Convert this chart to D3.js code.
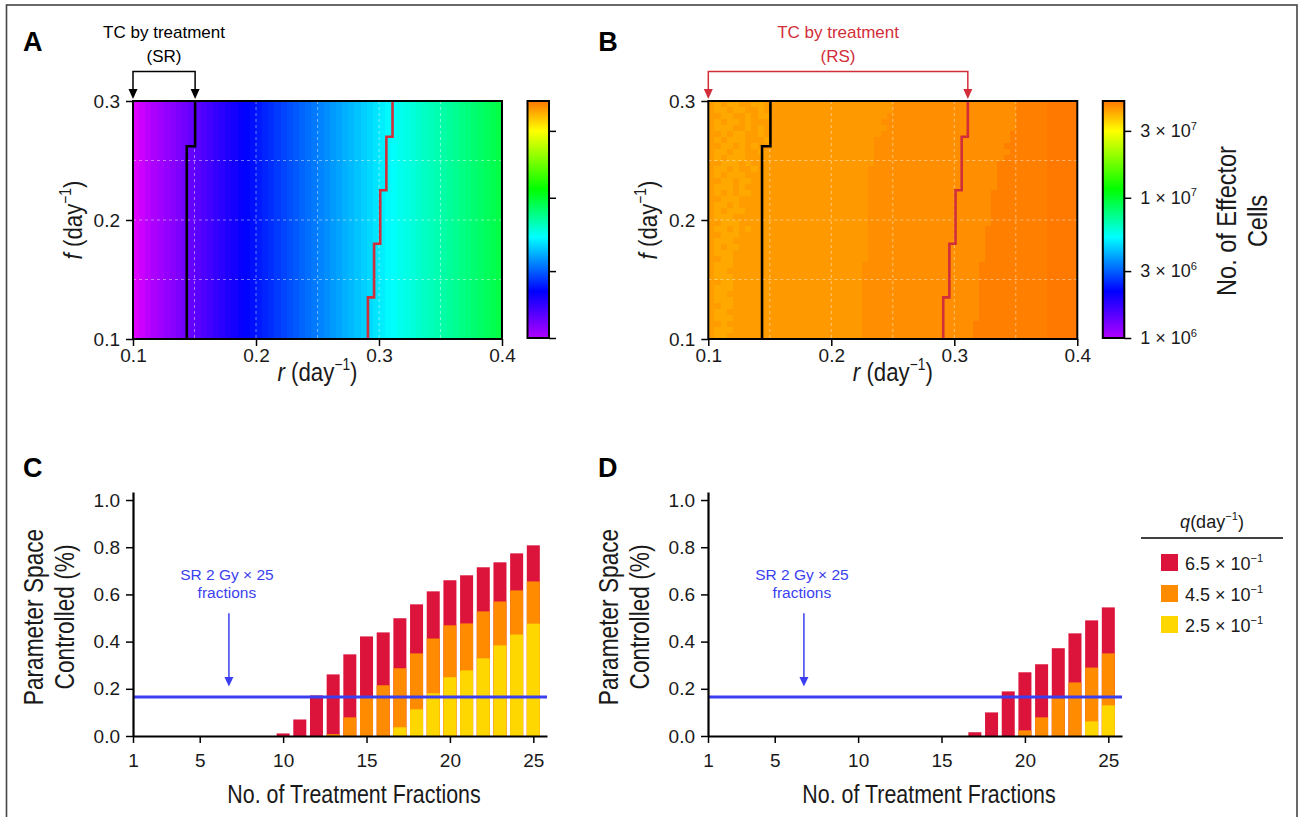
<!DOCTYPE html>
<html><head><meta charset="utf-8">
<script src="https://cdn.jsdelivr.net/npm/d3@7"></script>
<style>
body{margin:0;background:#fff;}
svg{display:block;font-family:"Liberation Sans",Arial,sans-serif;}
</style></head><body>
<svg id="c" width="1299" height="817"></svg>
<script>
// ---------------- DATA ----------------
// Panel A: log10(no. of effector cells) per r-column (r = 0.1 .. 0.4, step 0.005)
const logEffectorA = [5.941,5.963,5.986,6.008,6.030,6.052,6.074,6.097,6.119,6.141,6.163,6.185,6.208,6.230,6.252,6.274,6.296,6.319,6.338,6.354,6.371,6.387,6.403,6.419,6.436,6.452,6.468,6.484,6.501,6.517,6.533,6.549,6.566,6.582,6.598,6.614,6.631,6.647,6.663,6.679,6.696,6.712,6.727,6.741,6.755,6.770,6.784,6.798,6.812,6.826,6.840,6.854,6.869,6.883,6.897,6.911,6.925,6.939,6.954,6.968];
// Panel B: level codes per cell; first 10 r-columns (mottled zone), rows from f=0.3 down to 0.1
const mottleB = ["babaabbaab","baabaabbab","bbaabbabaa","babaababbb","baaabbabab","bbabaabbab","babaaabbba","bbaabababb","baabaabbab","babaaabbbb",
"bbaaababbb","baababbabb","babaaabbbb","bbaabaabbb","baaababbbb","bababaabbb","bbaaabbbbb","baababbbbb","babaaabbbb","baaabbbbbb",
"bbaaabbbbb","baabababbb","bbaaabbbbb","baaabbbbbb","babaabbbbb","baaabbbbbb","bbaabbbbbb","baaabbbbbb","baabbbbbbb","baaabbbbbb",
"bbaabbbbbb","baaabbbbbb","baabbbbbbb","baaabbbbbb","bbaabbbbbb","baabbbbbbb","baaabbbbbb","bbabbbbbbb","baaabbbbbb","baabbbbbbb"];
const edgeDB = [0.25,0.25,0.245,0.24,0.245,0.24,0.235,0.235,0.235,0.235,0.235,0.23,0.23,0.23,0.23,0.23,0.23,0.23,0.23,0.23,0.23,0.23,0.23,0.23,0.23,0.23,0.23,0.225,0.225,0.225,0.225,0.225,0.225,0.225,0.225,0.225,0.225,0.225,0.225,0.225];
const edgeEB = [0.35,0.35,0.35,0.35,0.35,0.345,0.345,0.34,0.345,0.34,0.335,0.335,0.335,0.335,0.335,0.33,0.33,0.33,0.33,0.33,0.33,0.325,0.325,0.325,0.325,0.325,0.325,0.32,0.32,0.32,0.32,0.32,0.32,0.32,0.32,0.32,0.32,0.315,0.315,0.315];
const edgeFB = 0.375;
const levelValuesB = {a:4.08e7, b:4.27e7, c:4.32e7, d:4.48e7, e:4.74e7, f:4.86e7};
// tumour-control contours (step lines): f break points and r value of each step
const blackContourF = [0.1, 0.262, 0.3];
const blackContourR = [0.1437, 0.1505];
const redContourF = [0.1, 0.135, 0.18, 0.225, 0.27, 0.3];
const redContourR = [0.291, 0.296, 0.301, 0.306, 0.311];
const rTicks = [0.1, 0.2, 0.3, 0.4];
const fTicks = [0.1, 0.2, 0.3];
const cbarTicks = [1e6, 3e6, 1e7, 3e7];
const cbarTickExp = ["6", "6", "7", "7"];
const cbarTickMant = ["1", "3", "1", "3"];

// Panels C / D
const fractions = [1,2,3,4,5,6,7,8,9,10,11,12,13,14,15,16,17,18,19,20,21,22,23,24,25];
const ctrlC_q65 = [0,0,0,0,0,0,0,0,0,0.011,0.070,0.172,0.261,0.346,0.422,0.439,0.499,0.558,0.613,0.660,0.681,0.715,0.736,0.774,0.808];
const ctrlC_q45 = [0,0,0,0,0,0,0,0,0,0,0,0,0.008,0.079,0.170,0.215,0.287,0.350,0.413,0.469,0.477,0.528,0.570,0.617,0.655];
const ctrlC_q25 = [0,0,0,0,0,0,0,0,0,0,0,0,0,0,0,0,0.037,0.113,0.181,0.249,0.278,0.329,0.384,0.430,0.476];
const ctrlD_q65 = [0,0,0,0,0,0,0,0,0,0,0,0,0,0,0,0,0.016,0.100,0.189,0.270,0.304,0.372,0.435,0.490,0.545];
const ctrlD_q45 = [0,0,0,0,0,0,0,0,0,0,0,0,0,0,0,0,0,0,0,0.024,0.079,0.160,0.227,0.290,0.350];
const ctrlD_q25 = [0,0,0,0,0,0,0,0,0,0,0,0,0,0,0,0,0,0,0,0,0,0,0,0.062,0.130];
const srReference = 0.165;
const fracTicks = [1,5,10,15,20,25];
const ctrlTicks = [0,0.2,0.4,0.6,0.8,1.0];
const qLabels = ["6.5", "4.5", "2.5"];

// ---------------- STYLE ----------------
const cmapDomain = [8.5e5, 1e6, 2.15e6, 5.25e6, 1.15e7, 3e7, 5e7];
const cmapColors = ["#e400ff", "#b000ff", "#0000ff", "#00ffff", "#00ff00", "#ffff00", "#ff7000"];
const color = d3.scaleLog().domain(cmapDomain).range(cmapColors).interpolate(d3.interpolateRgb).clamp(true);
const qColors = ["#dc143c", "#ff8c00", "#ffd700"];
const blue = "#3b3ff0", red = "#d22e3a", txt = "#1a1a1a";
const tickFont = 19, narrow = 0.84;

const svg = d3.select("#c");
svg.append("rect").attr("x",6.5).attr("y",5).attr("width",1290.5).attr("height",830)
  .attr("fill","none").attr("stroke","#444").attr("stroke-width",1.6);

function rich(t, parts, fs){
  let shift = 0;
  parts.forEach(p=>{
    const s = t.append("tspan").text(p.t);
    if(p.i) s.attr("font-style","italic");
    if(p.sup){ s.attr("font-size", fs*0.62).attr("dy", -fs*0.42); shift = fs*0.42; }
    else if(shift){ s.attr("dy", shift); shift = 0; }
  });
  return t;
}
// condensed label (horizontally squeezed Liberation Sans)
function label(parent, x, y, rot, fs, parts){
  const t = parent.append("g").attr("transform",`translate(${x},${y}) rotate(${rot}) scale(${narrow},1)`)
    .append("text").attr("text-anchor","middle").attr("font-size",fs).attr("fill",txt);
  return rich(t, parts, fs);
}

// ---------------- HEATMAPS ----------------
const heatW = 369, heatTop = 101, heatBot = 339;
const rStep = 0.005, nCols = 60, nRows = 40;

function heatPanel(left, valueAt, opts){
  const g = svg.append("g");
  const x = d3.scaleLinear().domain([0.1,0.4]).range([left, left+heatW]);
  const y = d3.scaleLinear().domain([0.1,0.3]).range([heatBot, heatTop]);
  const clipId = "clip"+opts.key;
  svg.append("clipPath").attr("id",clipId).append("rect")
    .attr("x",left).attr("y",heatTop).attr("width",heatW).attr("height",heatBot-heatTop);
  const cells = [];
  for(let i=0;i<nRows;i++) for(let j=0;j<nCols;j++){
    cells.push({i,j,v:valueAt(i,j)});
  }
  g.append("g").attr("clip-path","url(#"+clipId+")").selectAll("rect").data(cells).join("rect")
    .attr("x", d=>x(0.1+d.j*rStep))
    .attr("y", d=>y(0.3-d.i*rStep))
    .attr("width", d=>x(0.1+(d.j+1)*rStep)-x(0.1+d.j*rStep)+0.6)
    .attr("height", d=>y(0.3-(d.i+1)*rStep)-y(0.3-d.i*rStep)+0.6)
    .attr("fill", d=>color(d.v)).attr("shape-rendering","crispEdges");
  // dashed grid
  const gridG = g.append("g").attr("stroke","#fff").attr("stroke-opacity",0.45)
    .attr("stroke-dasharray","3,3").attr("stroke-width",1);
  [0.15,0.2,0.25,0.3,0.35].forEach(r=>gridG.append("line").attr("x1",x(r)).attr("x2",x(r)).attr("y1",heatTop).attr("y2",heatBot));
  [0.15,0.2,0.25].forEach(f=>gridG.append("line").attr("x1",left).attr("x2",left+heatW).attr("y1",y(f)).attr("y2",y(f)));
  // contours
  function stepPts(F,R){ const pts=[]; R.forEach((r,k)=>{ pts.push([r,F[k]]); pts.push([r,F[k+1]]); }); return pts; }
  const line = d3.line().x(d=>x(d[0])).y(d=>y(d[1]));
  g.append("path").attr("d",line(stepPts(blackContourF,blackContourR))).attr("fill","none").attr("stroke","#000").attr("stroke-width",2.6);
  g.append("path").attr("d",line(stepPts(redContourF,redContourR))).attr("fill","none").attr("stroke",red).attr("stroke-width",2.6);
  // border
  g.append("rect").attr("x",left).attr("y",heatTop).attr("width",heatW).attr("height",heatBot-heatTop)
    .attr("fill","none").attr("stroke","#000").attr("stroke-width",2);
  // axes
  const ax = g.append("g").attr("transform",`translate(0,${heatBot})`)
    .call(d3.axisBottom(x).tickValues(rTicks).tickFormat(d3.format(".1f")).tickSize(7).tickPadding(3));
  const ay = g.append("g").attr("transform",`translate(${left},0)`)
    .call(d3.axisLeft(y).tickValues(fTicks).tickFormat(d3.format(".1f")).tickSize(7).tickPadding(6));
  [ax,ay].forEach(a=>{ a.select(".domain").remove(); a.selectAll("line").attr("stroke","#000").attr("stroke-width",1.5);
    a.selectAll("text").attr("font-size",tickFont).attr("fill",txt).attr("font-family","Liberation Sans, Arial, sans-serif"); });
  // axis labels
  label(g, left+heatW/2, 381, 0, 26.5, [{t:"r",i:1},{t:" (day"},{t:"\u22121",sup:1},{t:")"}]);
  label(g, left-51, (heatTop+heatBot)/2, -90, 26.5, [{t:"f",i:1},{t:" (day"},{t:"\u22121",sup:1},{t:")"}]);
  // panel letter
  g.append("text").attr("x",left-110).attr("y",51).attr("font-size",27).attr("font-weight","bold").attr("fill","#000").text(opts.key);
  // annotation bracket
  const ac = opts.annColor, xa = x(0.1), xb = x(opts.bracketR), yb = heatTop-29.5;
  const ag = g.append("g");
  ag.append("path").attr("d",`M${xa},${heatTop-10} V${yb} H${xb} V${heatTop-10}`).attr("fill","none").attr("stroke",ac).attr("stroke-width",1.5);
  [xa,xb].forEach(xx=>ag.append("path").attr("d",`M${xx-4.5},${heatTop-12} L${xx+4.5},${heatTop-12} L${xx},${heatTop-2} Z`).attr("fill",ac));
  const tx = (xa+xb)/2;
  ag.append("text").attr("x",tx).attr("y",38).attr("text-anchor","middle").attr("font-size",17).attr("fill",ac).text("TC by treatment");
  ag.append("text").attr("x",tx).attr("y",62).attr("text-anchor","middle").attr("font-size",17).attr("fill",ac).text(opts.annLabel);
  // colorbar
  const cbL = left+394.5, cbW = 21.5;
  const cy = d3.scaleLog().domain([1e6,4.9e7]).range([338, heatTop]);
  const cb = g.append("g");
  const rows = d3.range(heatTop, 338, 1);
  cb.selectAll("rect").data(rows).join("rect").attr("x",cbL).attr("y",d=>d).attr("width",cbW).attr("height",1.2)
    .attr("fill",d=>color(cy.invert(d+0.5))).attr("shape-rendering","crispEdges");
  cb.append("rect").attr("x",cbL).attr("y",heatTop).attr("width",cbW).attr("height",338-heatTop)
    .attr("fill","none").attr("stroke","#000").attr("stroke-width",2);
  const cax = cb.append("g").attr("transform",`translate(${cbL+cbW},0)`)
    .call(d3.axisRight(cy).tickValues(cbarTicks).tickSize(7).tickPadding(9).tickFormat(""));
  cax.select(".domain").remove();
  cax.selectAll("line").attr("stroke","#000").attr("stroke-width",1.5);
  if(opts.cbarLabels){
    cax.selectAll(".tick text").each(function(d,k){
      const t = d3.select(this).attr("font-size",18).attr("fill",txt).attr("font-family","Liberation Sans, Arial, sans-serif").text(null);
      rich(t,[{t:cbarTickMant[k]+" \u00d7 10"},{t:cbarTickExp[k],sup:1}],18);
    });
    const lx = cbL + 133;
    label(g, lx, 221, -90, 28, [{t:"No. of Effector"}]);
    label(g, lx+31, 221, -90, 28, [{t:"Cells"}]);
  }
}

heatPanel(133, (i,j)=>Math.pow(10, logEffectorA[j]), {key:"A", annColor:"#000", annLabel:"(SR)", bracketR: blackContourR[blackContourR.length-1], cbarLabels:false});
heatPanel(708.3, (i,j)=>{
  const rc = 0.1 + j*rStep + rStep/2;
  let code;
  if(j < mottleB[i].length) code = mottleB[i][j];
  else if(rc < edgeDB[i]) code = "c";
  else if(rc < edgeEB[i]) code = "d";
  else if(rc < edgeFB) code = "e";
  else code = "f";
  return levelValuesB[code];
}, {key:"B", annColor:red, annLabel:"(RS)", bracketR: redContourR[redContourR.length-1], cbarLabels:true});

// ---------------- BAR PANELS ----------------
const barTop = 492, barBase = 736, barW = 414;
function barPanel(left, key, series){
  const g = svg.append("g");
  const x = d3.scaleLinear().domain([1,25.82]).range([left, left+barW]);
  const y = d3.scaleLinear().domain([0,1.034]).range([barBase, barTop]);
  const bw = (x(2)-x(1))*0.78;
  series.forEach((vals,k)=>{
    g.append("g").selectAll("rect").data(fractions.map((n,idx)=>({n,v:vals[idx]})).filter(d=>d.v>0)).join("rect")
      .attr("x",d=>x(d.n)-bw/2).attr("y",d=>y(d.v)).attr("width",bw).attr("height",d=>y(0)-y(d.v))
      .attr("fill",qColors[k]);
  });
  g.append("line").attr("x1",left).attr("x2",left+barW).attr("y1",y(srReference)).attr("y2",y(srReference))
    .attr("stroke",blue).attr("stroke-width",3);
  // annotation
  const xa = x(6.75);
  g.append("text").attr("x",xa-2).attr("y",y(0.66)).attr("text-anchor","middle").attr("font-size",15.5).attr("fill",blue).text("SR 2 Gy \u00d7 25");
  g.append("text").attr("x",xa-2).attr("y",y(0.585)).attr("text-anchor","middle").attr("font-size",15.5).attr("fill",blue).text("fractions");
  g.append("line").attr("x1",xa).attr("x2",xa).attr("y1",y(0.52)).attr("y2",y(0.245)).attr("stroke",blue).attr("stroke-width",1.5);
  g.append("path").attr("d",`M${xa-4.5},${y(0.25)} L${xa+4.5},${y(0.25)} L${xa},${y(0.21)} Z`).attr("fill",blue);
  // axes
  const ax = g.append("g").attr("transform",`translate(0,${barBase})`)
    .call(d3.axisBottom(x).tickValues(fracTicks).tickFormat(d3.format("d")).tickSize(7).tickSizeOuter(0).tickPadding(11));
  const ay = g.append("g").attr("transform",`translate(${left},0)`)
    .call(d3.axisLeft(y).tickValues(ctrlTicks).tickFormat(d3.format(".1f")).tickSize(7).tickSizeOuter(0).tickPadding(6));
  [ax,ay].forEach(a=>{ a.select(".domain").attr("stroke","#000").attr("stroke-width",2.2);
    a.selectAll("line").attr("stroke","#000").attr("stroke-width",1.5);
    a.selectAll("text").attr("font-size",tickFont).attr("fill",txt).attr("font-family","Liberation Sans, Arial, sans-serif"); });
  // labels
  label(g, left+221, 803, 0, 25.5, [{t:"No. of Treatment Fractions"}]);
  label(g, left-90, 617, -90, 27, [{t:"Parameter Space"}]);
  label(g, left-59, 617, -90, 27, [{t:"Controlled (%)"}]);
  g.append("text").attr("x",left-110).attr("y",477).attr("font-size",27).attr("font-weight","bold").attr("fill","#000").text(key);
}
barPanel(133, "C", [ctrlC_q65, ctrlC_q45, ctrlC_q25]);
barPanel(708, "D", [ctrlD_q65, ctrlD_q45, ctrlD_q25]);

// ---------------- LEGEND ----------------
const lg = svg.append("g");
rich(lg.append("text").attr("x",1212).attr("y",528).attr("text-anchor","middle").attr("font-size",18).attr("fill",txt),
  [{t:"q",i:1},{t:"(day"},{t:"\u22121",sup:1},{t:")"}], 18);
lg.append("line").attr("x1",1141).attr("x2",1283).attr("y1",538).attr("y2",538).attr("stroke","#000").attr("stroke-width",1.5);
qLabels.forEach((lab,k)=>{
  const yy = 554 + k*31;
  lg.append("rect").attr("x",1161).attr("y",yy).attr("width",17).attr("height",17).attr("fill",qColors[k]);
  rich(lg.append("text").attr("x",1185).attr("y",yy+16).attr("font-size",18).attr("fill",txt),
    [{t:lab+" \u00d7 10"},{t:"\u22121",sup:1}], 18);
});
</script>
</body></html>
